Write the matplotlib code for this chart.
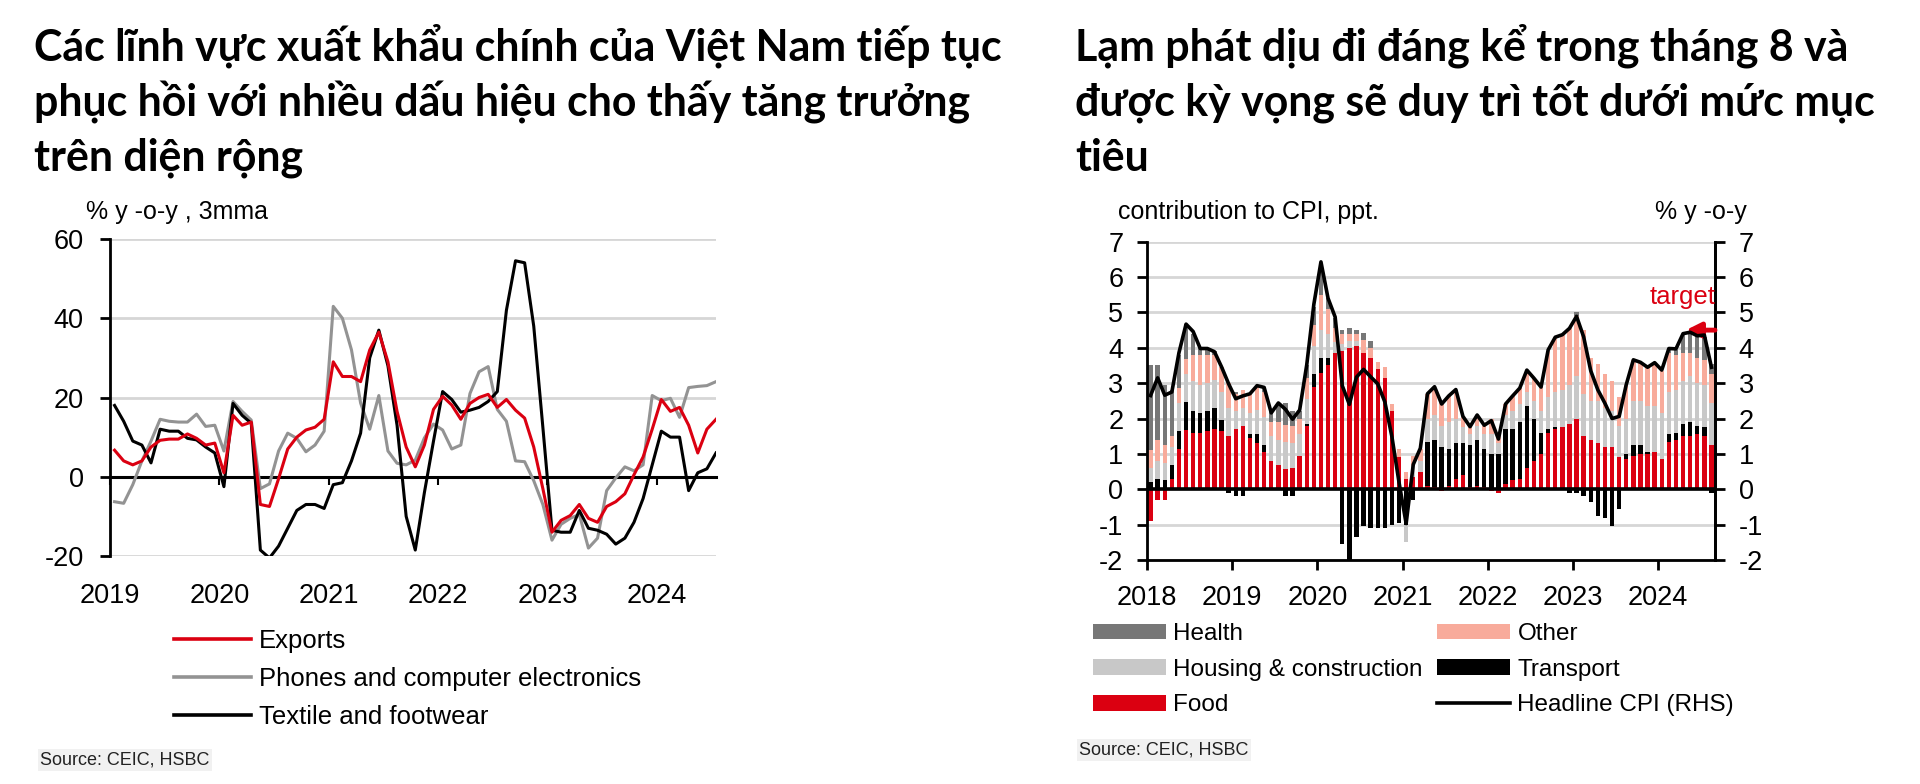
import numpy as np
import matplotlib
matplotlib.use("Agg")
import matplotlib.pyplot as plt
from matplotlib.patches import Patch
from matplotlib.lines import Line2D
from matplotlib.transforms import blended_transform_factory

plt.rcParams["font.family"] = ["Liberation Sans", "DejaVu Sans"]
plt.rcParams["axes.unicode_minus"] = False

# ---------------- Left chart data: % y-o-y, 3mma, Jan 2019 - Jul 2024 ----------------
exp_years = ["2019", "2020", "2021", "2022", "2023", "2024"]
exports = [6.7, 4.0, 3.0, 4.0, 7.5, 9.2, 9.5, 9.5, 10.8, 9.7, 8.0, 8.5,
           1.0, 15.5, 13.0, 13.8, -7.0, -7.5, -0.5, 7.0, 10.0, 11.8, 12.5, 14.5,
           29.0, 25.3, 25.3, 24.0, 32.0, 36.5, 29.0, 16.5, 7.5, 2.5, 8.0, 17.0,
           20.3, 18.1, 14.5, 18.5, 20.0, 20.8, 17.5, 19.5, 16.8, 14.8, 7.5, -3.0,
           -14.0, -11.0, -9.8, -7.0, -10.5, -11.5, -7.5, -6.3, -4.3, 0.5, 5.0, 12.0,
           19.5, 16.5, 17.5, 13.0, 6.0, 12.0, 14.5]
phones = [-6.3, -6.7, -2.0, 4.0, 9.0, 14.5, 14.0, 13.8, 13.8, 15.8, 12.7, 13.0,
          6.5, 19.0, 16.5, 14.3, -3.0, -1.8, 6.5, 11.0, 9.7, 6.3, 8.0, 11.5,
          43.0, 40.0, 32.0, 18.6, 12.0, 20.5, 6.5, 3.4, 3.0, 4.2, 9.8, 13.3,
          11.8, 7.0, 8.0, 21.0, 26.5, 27.8, 17.0, 14.0, 4.0, 3.8, -1.0, -7.0,
          -16.0, -12.0, -10.5, -9.5, -18.0, -15.5, -3.5, -0.3, 2.5, 1.5, 3.0, 20.5,
          19.2, 19.8, 15.0, 22.5, 22.8, 23.0, 24.0]
textile = [18.0, 14.0, 9.0, 8.0, 3.5, 12.0, 11.5, 11.5, 9.7, 9.3, 7.5, 6.0,
           -2.5, 18.5, 15.5, 13.5, -18.5, -20.5, -17.5, -13.0, -8.5, -7.0, -7.0, -8.0,
           -2.0, -1.5, 4.0, 11.0, 30.0, 37.0, 28.0, 13.0, -10.0, -18.5, -4.0, 9.0,
           21.5, 19.5, 16.3, 16.8, 17.5, 19.0, 21.5, 42.0, 54.5, 54.0, 38.0, 12.5,
           -13.5, -14.0, -14.0, -8.5, -13.0, -13.5, -14.5, -17.0, -15.5, -11.5, -5.5, 3.0,
           11.5, 10.0, 10.0, -3.5, 1.0, 2.0, 6.0]
left_yticks = [60, 40, 20, 0, -20]

# ---------------- Right chart data: contribution to CPI (ppt), Jan 2018 - Aug 2024 ----------------
cpi_years = ["2018", "2019", "2020", "2021", "2022", "2023", "2024"]
food = [-0.9, -0.3, -0.3, 0.3, 1.15, 1.67, 1.6, 1.6, 1.65, 1.7, 1.65, 1.5,
        1.7, 1.8, 1.45, 1.3, 1.05, 0.8, 0.7, 0.58, 0.6, 0.95, 1.8, 2.9,
        3.3, 3.5, 3.85, 3.9, 4.0, 4.05, 3.86, 3.7, 3.4, 3.15, 2.2, 0.9,
        0.3, 0.35, 0.5, 0.1, 0.05, -0.05, 0.1, 0.3, 0.4, 0.05, 0.1, 0.05,
        -0.05, -0.1, 0.15, 0.25, 0.3, 0.6, 0.8, 1.0, 1.6, 1.7, 1.75, 1.85,
        2.0, 1.5, 1.4, 1.3, 1.2, 1.2, 0.9, 0.85, 0.95, 1.0, 1.0, 1.05,
        0.85, 1.35, 1.4, 1.5, 1.5, 1.55, 1.5, 1.25]
transport = [0.2, 0.3, 0.25, 0.4, 0.5, 0.8, 0.6, 0.55, 0.55, 0.6, 0.3, -0.1,
             -0.2, -0.2, 0.1, 0.25, 0.2, 0.0, 0.0, -0.2, -0.2, 0.0, 0.05, 0.35,
             0.4, 0.2, 0.0, -1.55, -2.0, -1.35, -1.05, -1.1, -1.1, -1.1, -1.0, -0.95,
             -1.0, -0.3, 0.0, 1.25, 1.35, 1.2, 1.05, 1.0, 0.9, 1.2, 1.3, 1.1,
             1.0, 1.0, 1.55, 1.45, 1.6, 1.75, 1.2, 0.6, 0.1, 0.05, 0.0, -0.1,
             -0.1, -0.2, -0.35, -0.75, -0.8, -1.05, -0.55, 0.15, 0.3, 0.25, 0.05, 0.0,
             0.0, 0.2, 0.2, 0.35, 0.4, 0.25, 0.25, -0.1]
housing = [0.4, 0.5, 0.5, 0.5, 0.8, 0.8, 0.85, 0.8, 0.8, 0.8, 0.8, 0.8,
           0.5, 0.5, 0.6, 0.7, 0.8, 0.7, 0.7, 0.75, 0.7, 0.6, 0.7, 0.8,
           0.8, 0.7, 0.3, 0.2, 0.2, 0.15, 0.0, 0.0, 0.0, 0.0, 0.0, 0.0,
           -0.5, 0.3, 0.3, 0.65, 0.7, 0.6, 0.75, 0.7, 0.45, 0.3, 0.4, 0.4,
           0.55, 0.3, 0.4, 0.5, 0.5, 0.4, 0.5, 0.6, 0.9, 1.0, 1.05, 1.1,
           1.2, 1.2, 1.1, 1.2, 1.1, 1.0, 0.9, 1.0, 1.25, 1.25, 1.3, 1.3,
           1.3, 1.2, 1.2, 1.2, 1.3, 1.2, 1.2, 1.2]
other = [0.5, 0.6, 0.5, 0.3, 0.4, 0.4, 0.75, 0.85, 0.8, 0.7, 0.7, 0.7,
         0.5, 0.5, 0.55, 0.65, 0.7, 0.4, 0.5, 0.5, 0.5, 0.45, 0.6, 0.6,
         1.0, 0.7, 0.4, 0.3, 0.2, 0.2, 0.35, 0.3, 0.2, 0.3, 0.2, 0.25,
         0.2, 0.3, 0.35, 0.7, 0.75, 0.65, 0.75, 0.8, 0.3, 0.25, 0.3, 0.25,
         0.45, 0.2, 0.3, 0.45, 0.45, 0.6, 0.65, 0.7, 1.3, 1.55, 1.55, 1.6,
         1.7, 1.8, 1.2, 1.05, 0.95, 0.85, 0.8, 0.95, 1.15, 1.1, 1.1, 1.2,
         1.2, 1.1, 1.0, 0.8, 0.65, 0.7, 0.7, 0.8]
health = [2.4, 2.1, 1.7, 1.3, 0.95, 1.0, 0.6, 0.2, 0.15, 0.1, 0.0, 0.0,
          0.05, 0.0, 0.0, 0.0, 0.1, 0.3, 0.5, 0.6, 0.4, 0.2, 0.35, 0.5,
          0.9, 0.3, 0.3, 0.1, 0.15, 0.1, 0.2, 0.2, 0.0, 0.0, 0.0, 0.0,
          0.0, 0.0, 0.0, 0.0, 0.0, 0.0, 0.0, 0.0, 0.0, 0.0, 0.0, 0.0,
          0.0, 0.0, 0.0, 0.0, 0.0, 0.0, 0.0, 0.0, 0.0, 0.0, 0.0, 0.0,
          0.1, 0.0, 0.0, 0.0, 0.0, 0.0, 0.0, 0.0, 0.0, 0.0, 0.0, 0.0,
          0.0, 0.1, 0.15, 0.55, 0.6, 0.65, 0.65, 0.3]
headline_cpi = [2.65, 3.15, 2.66, 2.75, 3.86, 4.67, 4.46, 3.98, 3.98, 3.89, 3.46, 2.98,
                2.56, 2.64, 2.70, 2.93, 2.88, 2.16, 2.44, 2.26, 1.98, 2.24, 3.52, 5.23,
                6.43, 5.40, 4.87, 2.93, 2.40, 3.17, 3.39, 3.18, 2.98, 2.47, 1.48, 0.19,
                -0.97, 0.70, 1.16, 2.70, 2.90, 2.41, 2.64, 2.82, 2.06, 1.77, 2.10, 1.81,
                1.94, 1.42, 2.41, 2.64, 2.86, 3.37, 3.14, 2.89, 3.94, 4.30, 4.37, 4.55,
                4.89, 4.31, 3.35, 2.81, 2.43, 2.00, 2.06, 2.96, 3.66, 3.59, 3.45, 3.58,
                3.37, 3.98, 3.97, 4.40, 4.44, 4.34, 4.36, 3.45]
target_level = 4.5
right_yticks = [7, 6, 5, 4, 3, 2, 1, 0, -1, -2]

# ---------------- styling ----------------
RED = "#db0011"
GRAY_LINE = "#939393"
C_FOOD = "#db0011"
C_TRANS = "#000000"
C_HOUS = "#c8c8c8"
C_OTHER = "#f8ab9b"
C_HEALTH = "#777777"
GRID = "#d6d6d6"

W, H = 1920, 784
fig = plt.figure(figsize=(W / 100, H / 100), dpi=100)


def fx(px):
    return px / W


def fy(py):
    return 1 - py / H


TICK_FS = 19.5
# ---------------- Titles ----------------
title_fam = ["Lato", "Noto Sans", "DejaVu Sans"]
left_title = ["Các lĩnh vực xuất khẩu chính của Việt Nam tiếp tục",
              "phục hồi với nhiều dấu hiệu cho thấy tăng trưởng",
              "trên diện rộng"]
right_title = ["Lạm phát dịu đi đáng kể trong tháng 8 và",
               "được kỳ vọng sẽ duy trì tốt dưới mức mục",
               "tiêu"]
baselines = [61, 116, 171]
renderer = fig.canvas.get_renderer()
probe = fig.text(0, 0, left_title[0], fontsize=30, fontweight="bold", family=title_fam)
w0 = probe.get_window_extent(renderer=renderer).width
probe.remove()
probe = fig.text(0, 0, right_title[0], fontsize=30, fontweight="bold", family=title_fam)
w1 = probe.get_window_extent(renderer=renderer).width
probe.remove()
tfs = 0.5 * (30 * 965 / w0 + 30 * 776 / w1)
for txt, b in zip(left_title, baselines):
    fig.text(fx(34), fy(b), txt, fontsize=tfs, fontweight="bold", family=title_fam,
             va="baseline", ha="left", color="black")
for txt, b in zip(right_title, baselines):
    fig.text(fx(1075), fy(b), txt, fontsize=tfs, fontweight="bold", family=title_fam,
             va="baseline", ha="left", color="black")

# ---------------- Left chart ----------------
axL = fig.add_axes([fx(110), fy(556), fx(716) - fx(110), fy(239) - fy(556)])
xl = np.arange(len(exports))
axL.plot(xl, phones, color=GRAY_LINE, lw=2.2, zorder=3)
axL.plot(xl, textile, color="black", lw=2.2, zorder=4)
axL.plot(xl, exports, color=RED, lw=2.2, zorder=5)
axL.set_xlim(-0.5, 66)
axL.set_ylim(-20, 60)
axL.set_yticks(left_yticks)
axL.set_yticklabels([str(v) for v in left_yticks])
axL.yaxis.grid(True, color=GRID, lw=2)
axL.set_axisbelow(True)
for s in ["top", "right"]:
    axL.spines[s].set_visible(False)
axL.spines["left"].set_linewidth(2)
axL.spines["bottom"].set_position(("data", 0))
axL.spines["bottom"].set_linewidth(2.2)
lx_ticks = [-0.5 + 12 * k for k in range(len(exp_years))]
axL.set_xticks(lx_ticks)
axL.tick_params(axis="x", direction="out", length=6, width=1.5, labelbottom=False)
axL.tick_params(axis="y", direction="out", length=7, width=2, labelsize=TICK_FS, pad=12)
trL = blended_transform_factory(axL.transData, axL.transAxes)
for xpos, lab in zip(lx_ticks, exp_years):
    axL.text(xpos, -0.125, lab, transform=trL, ha="center", va="center", fontsize=TICK_FS)
fig.text(fx(86), fy(212), "% y -o-y , 3mma", fontsize=18, va="center", ha="left")

handlesL = [Line2D([], [], color=RED, lw=2.6), Line2D([], [], color=GRAY_LINE, lw=2.6),
            Line2D([], [], color="black", lw=2.6)]
fig.legend(handlesL, ["Exports", "Phones and computer electronics", "Textile and footwear"],
           loc="upper left", bbox_to_anchor=(fx(174), fy(629)), frameon=False,
           borderpad=0, borderaxespad=0, handlelength=3.0, handletextpad=0.3,
           labelspacing=0.55, fontsize=18.5)
fig.text(fx(40), fy(760), "Source: CEIC, HSBC", fontsize=13, va="center", ha="left",
         color="#222222", bbox=dict(facecolor="#f1f1f1", edgecolor="none", pad=1.5))

# ---------------- Right chart ----------------
axR = fig.add_axes([fx(1147), fy(560), fx(1715) - fx(1147), fy(241.7) - fy(560)])
xr = np.arange(len(food))
series = [(food, C_FOOD), (transport, C_TRANS), (housing, C_HOUS), (other, C_OTHER), (health, C_HEALTH)]
pos_base = np.zeros(len(food))
neg_base = np.zeros(len(food))
for vals, col in series:
    v = np.array(vals, dtype=float)
    pos = np.where(v > 0, v, 0)
    neg = np.where(v < 0, v, 0)
    axR.bar(xr, pos, bottom=pos_base, width=0.62, color=col, linewidth=0, zorder=2)
    axR.bar(xr, neg, bottom=neg_base, width=0.62, color=col, linewidth=0, zorder=2)
    pos_base += pos
    neg_base += neg
axR.set_xlim(-0.5, 79.5)
axR.set_ylim(-2, 7)
axR.set_yticks(right_yticks)
axR.set_yticklabels([str(v) for v in right_yticks])
axR.yaxis.grid(True, color=GRID, lw=2)
axR.set_axisbelow(True)
axR.axhline(0, color="black", lw=2.6, zorder=3)
axR.spines["top"].set_visible(False)
for s in ["left", "right", "bottom"]:
    axR.spines[s].set_linewidth(2)
rx_ticks = [-0.5 + 12 * k for k in range(len(cpi_years))]
axR.set_xticks(rx_ticks)
axR.set_xticklabels([])
axR.tick_params(axis="x", direction="out", length=7, width=2, labelbottom=False)
axR.tick_params(axis="y", direction="out", length=7, width=2, labelsize=TICK_FS, pad=10)
trR = blended_transform_factory(axR.transData, axR.transAxes)
for xpos, lab in zip(rx_ticks, cpi_years):
    axR.text(xpos, -0.12, lab, transform=trR, ha="center", va="center", fontsize=TICK_FS)

ax2 = axR.twinx()
ax2.plot(xr, headline_cpi, color="black", lw=2.6, zorder=5)
ax2.set_ylim(-2, 7)
ax2.set_yticks(right_yticks)
ax2.set_yticklabels([str(v) for v in right_yticks])
ax2.tick_params(axis="y", direction="out", length=7, width=2, labelsize=TICK_FS, pad=10)
ax2.spines["top"].set_visible(False)
ax2.spines["right"].set_linewidth(2)
ax2.annotate("", xy=(75.4, target_level), xytext=(79.5, target_level),
             arrowprops=dict(arrowstyle="-|>", color=RED, lw=3.5, mutation_scale=22,
                             shrinkA=0, shrinkB=0))
ax2.text(79.6, 5.45, "target", color=RED, fontsize=18.5, ha="right", va="center")

fig.text(fx(1118), fy(212), "contribution to CPI, ppt.", fontsize=18, va="center", ha="left")
fig.text(fx(1747), fy(212), "% y -o-y", fontsize=18, va="center", ha="right")

handlesR = [Patch(facecolor=C_HEALTH), Patch(facecolor=C_HOUS), Patch(facecolor=C_FOOD),
            Patch(facecolor=C_OTHER), Patch(facecolor=C_TRANS),
            Line2D([], [], color="black", lw=2.6)]
labelsR = ["Health", "Housing & construction", "Food", "Other", "Transport", "Headline CPI (RHS)"]
fig.legend(handlesR, labelsR, ncol=2, loc="upper left", bbox_to_anchor=(fx(1093), fy(623)),
           frameon=False, borderpad=0, borderaxespad=0, handlelength=3.0, handleheight=0.62,
           handletextpad=0.3, labelspacing=0.56, columnspacing=0.6, fontsize=17.5)
fig.text(fx(1079), fy(750), "Source: CEIC, HSBC", fontsize=13, va="center", ha="left",
         color="#222222", bbox=dict(facecolor="#f1f1f1", edgecolor="none", pad=1.5))

fig.savefig("out.png", dpi=100, facecolor="white")
